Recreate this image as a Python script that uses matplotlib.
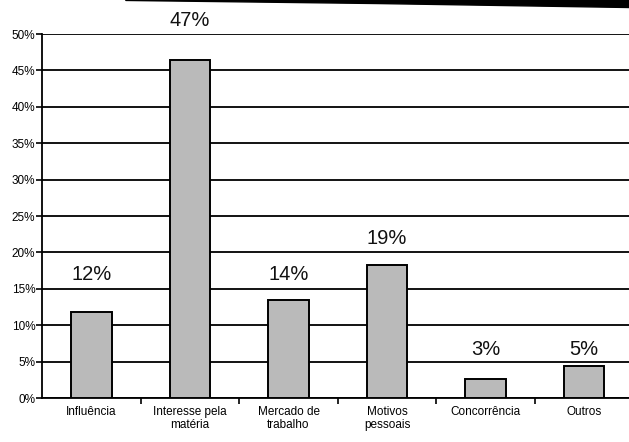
import matplotlib.pyplot as plt
from matplotlib.patches import Polygon

plt.rcParams['font.family'] = ['Liberation Sans', 'DejaVu Sans']

categorias = ['Influência', 'Interesse pela\nmatéria', 'Mercado de\ntrabalho',
              'Motivos\npessoais', 'Concorrência', 'Outros']
valores = [11.8, 46.5, 13.4, 18.3, 2.6, 4.4]
rotulos = ['12%', '47%', '14%', '19%', '3%', '5%']
yticks = [0, 5, 10, 15, 20, 25, 30, 35, 40, 45, 50]

# os rotulos foram colocados a mao no original, cada um a uma distancia diferente
desloc = [5.1, 5.4, 3.5, 3.6, 4.0, 2.2]

fig = plt.figure(figsize=(6.29, 4.42), dpi=100)
ax = fig.add_axes([0.067, 0.0995, 0.94, 0.8235])

x = range(len(categorias))
ax.bar(x, valores, width=0.41, color='#bababa', edgecolor='black', linewidth=1.4, zorder=3)

for i, v in enumerate(valores):
    ax.text(i, v + desloc[i], rotulos[i], ha='center', va='center', fontsize=14.5,
            color='#111111', clip_on=False)

ax.set_xlim(-0.5, 5.5)
ax.set_ylim(0, 50)
ax.set_yticks(yticks)
ax.set_yticklabels([f'{t}%' for t in yticks], fontsize=8.5)
ax.yaxis.grid(True, color='black', linewidth=1.3)
ax.set_axisbelow(True)

ax.set_xticks(list(x))
ax.set_xticklabels(categorias, fontsize=8.5, linespacing=1.05)
ax.tick_params(axis='x', length=0, pad=6)
ax.set_xticks([i + 0.5 for i in range(len(categorias) - 1)], minor=True)
ax.tick_params(axis='x', which='minor', length=4, width=1.2, direction='out')
ax.tick_params(axis='y', length=4, width=1.2, direction='out', pad=1)

for s in ['top', 'right']:
    ax.spines[s].set_visible(False)
ax.spines['left'].set_linewidth(1.3)
ax.spines['bottom'].set_linewidth(1.3)

# faixa escura da digitalizacao no topo
fig.add_artist(Polygon([[0.2, 1.0], [1.0, 1.0], [1.0, 0.983], [0.6, 0.992], [0.2, 0.999]],
                       closed=True, transform=fig.transFigure, color='black'))

fig.savefig('out.png', dpi=100, facecolor='white')
